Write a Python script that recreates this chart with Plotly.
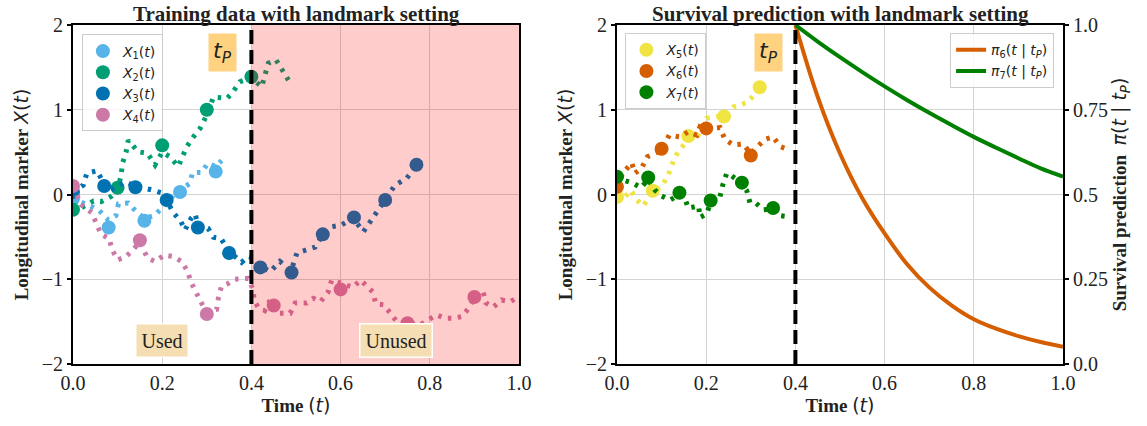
import plotly.graph_objects as go

# ---------------- Training trajectories (left panel) ----------------
# observed measurements (markers)
x1_obs_t = [0.0, 0.08, 0.16, 0.24, 0.32]
x1_obs_y = [-0.05, -0.39, -0.31, 0.03, 0.27]
x2_obs_t = [0.0, 0.1, 0.2, 0.3, 0.4]
x2_obs_y = [-0.18, 0.08, 0.58, 1.0, 1.39]
x3_obs_t = [0.0, 0.07, 0.14, 0.21, 0.28, 0.35, 0.42, 0.49, 0.56, 0.63, 0.70, 0.77]
x3_obs_y = [0.03, 0.10, 0.085, -0.065, -0.39, -0.69, -0.86, -0.92, -0.47, -0.27, -0.065, 0.35]
x4_obs_t = [0.0, 0.15, 0.3, 0.45, 0.6, 0.75, 0.9]
x4_obs_y = [0.10, -0.54, -1.41, -1.31, -1.12, -1.52, -1.21]

# underlying marker paths (dotted lines)
x1_path_t = [0.0, 0.016, 0.057, 0.079, 0.096, 0.102, 0.124, 0.143, 0.16, 0.182, 0.199,
             0.214, 0.229, 0.24, 0.262, 0.268, 0.289, 0.302, 0.32, 0.333]
x1_path_y = [-0.03, -0.085, -0.18, -0.30, -0.25, -0.11, -0.10, -0.21, -0.28, -0.25, -0.16,
             -0.085, 0.02, 0.05, 0.13, 0.26, 0.26, 0.37, 0.33, 0.40]
x2_path_t = [0.0, 0.027, 0.046, 0.063, 0.087, 0.100, 0.108, 0.111, 0.119, 0.124, 0.146,
             0.167, 0.184, 0.2, 0.217, 0.236, 0.255, 0.27, 0.285, 0.301, 0.315, 0.345,
             0.356, 0.374, 0.40, 0.423, 0.438, 0.455, 0.468, 0.483]
x2_path_y = [-0.21, -0.136, -0.077, -0.085, -0.018, 0.05, 0.23, 0.37, 0.50, 0.64, 0.505,
             0.486, 0.35, 0.50, 0.446, 0.33, 0.564, 0.68, 0.78, 0.95, 1.15, 1.135,
             1.19, 1.33, 1.38, 1.27, 1.55, 1.59, 1.47, 1.35]
x3_path_t = [0.0, 0.023, 0.031, 0.054, 0.07, 0.083, 0.118, 0.139, 0.178, 0.202, 0.208,
             0.225, 0.242, 0.251, 0.265, 0.274, 0.28, 0.303, 0.315, 0.332, 0.348, 0.378,
             0.393, 0.404, 0.419, 0.442, 0.464, 0.489, 0.502, 0.543, 0.558, 0.58, 0.602,
             0.628, 0.651, 0.666, 0.681, 0.696, 0.722, 0.748, 0.769, 0.78]
x3_path_y = [0.03, 0.11, 0.25, 0.28, 0.12, 0.05, 0.15, 0.10, 0.053, 0.014, -0.05,
             -0.215, -0.32, -0.42, -0.28, -0.23, -0.36, -0.40, -0.505, -0.52, -0.66, -0.80,
             -0.73, -0.75, -0.84, -0.91, -0.79, -0.90, -0.69, -0.62, -0.49, -0.38, -0.36,
             -0.28, -0.44, -0.32, -0.20, -0.08, 0.11, 0.19, 0.33, 0.41]
x4_path_t = [0.0, 0.018, 0.042, 0.053, 0.063, 0.081, 0.088, 0.10, 0.117, 0.132, 0.15,
             0.167, 0.184, 0.205, 0.223, 0.244, 0.257, 0.265, 0.277, 0.289, 0.30, 0.322,
             0.326, 0.333, 0.348, 0.363, 0.393, 0.404, 0.406, 0.415, 0.43, 0.442, 0.449,
             0.464, 0.487, 0.498, 0.524, 0.539, 0.555, 0.572, 0.58, 0.599, 0.627, 0.645,
             0.672, 0.679, 0.696, 0.711, 0.726, 0.75, 0.778, 0.815, 0.834, 0.853, 0.872,
             0.889, 0.90, 0.919, 0.926, 0.942, 0.961, 0.98, 0.995]
x4_path_y = [0.10, -0.12, -0.215, -0.34, -0.47, -0.52, -0.655, -0.77, -0.74, -0.667, -0.56,
             -0.75, -0.79, -0.714, -0.73, -0.79, -0.91, -1.04, -1.17, -1.29, -1.38, -1.355,
             -1.22, -1.08, -1.05, -1.0, -0.99, -1.13, -1.245, -1.33, -1.37, -1.245, -1.30,
             -1.40, -1.40, -1.28, -1.28, -1.225, -1.265, -1.15, -1.01, -1.05, -1.095, -1.01,
             -1.15, -1.29, -1.30, -1.395, -1.50, -1.52, -1.54, -1.42, -1.46, -1.46, -1.44,
             -1.33, -1.22, -1.135, -1.28, -1.33, -1.245, -1.265, -1.22]

# ---------------- New subjects (right panel) ----------------
x5_obs_t = [0.0, 0.08, 0.16, 0.24, 0.32]
x5_obs_y = [-0.03, 0.045, 0.69, 0.92, 1.265]
x6_obs_t = [0.0, 0.1, 0.2, 0.3]
x6_obs_y = [0.09, 0.54, 0.78, 0.46]
x7_obs_t = [0.0, 0.07, 0.14, 0.21, 0.28, 0.35]
x7_obs_y = [0.21, 0.20, 0.02, -0.07, 0.14, -0.16]

x5_path_t = [0.0, 0.014, 0.031, 0.044, 0.059, 0.08, 0.10, 0.115, 0.123, 0.134, 0.16,
             0.182, 0.201, 0.24, 0.261, 0.276, 0.294, 0.32]
x5_path_y = [-0.02, -0.05, 0.05, -0.06, -0.135, 0.03, 0.09, 0.23, 0.35, 0.475, 0.66,
             0.70, 0.90, 0.93, 1.035, 1.055, 1.095, 1.25]
x6_path_t = [0.0, 0.013, 0.033, 0.04, 0.055, 0.068, 0.10, 0.117, 0.141, 0.16, 0.179,
             0.186, 0.20, 0.231, 0.242, 0.261, 0.283, 0.30, 0.331, 0.35, 0.366, 0.389]
x6_path_y = [0.09, 0.25, 0.375, 0.25, 0.31, 0.445, 0.52, 0.70, 0.68, 0.74, 0.70,
             0.80, 0.77, 0.79, 0.65, 0.585, 0.595, 0.48, 0.65, 0.68, 0.565, 0.52]
x7_path_t = [0.0, 0.014, 0.037, 0.054, 0.07, 0.085, 0.10, 0.119, 0.14, 0.152, 0.16,
             0.183, 0.186, 0.201, 0.21, 0.231, 0.237, 0.246, 0.257, 0.28, 0.291, 0.298,
             0.312, 0.328, 0.349, 0.366, 0.381]
x7_path_y = [0.22, 0.17, 0.13, 0.08, 0.18, 0.053, -0.018, -0.065, 0.0, -0.045, -0.16,
             -0.135, -0.27, -0.23, -0.09, -0.026, 0.11, 0.25, 0.22, 0.13, 0.045, -0.097,
             -0.104, -0.18, -0.17, -0.25, -0.26]

# predicted survival from the landmark time onwards
surv_t = [0.40, 0.45, 0.50, 0.55, 0.60, 0.65, 0.70, 0.75, 0.80, 0.85, 0.90, 0.95, 1.00]
pi6 = [1.0, 0.788, 0.621, 0.489, 0.385, 0.295, 0.226, 0.173, 0.132, 0.104, 0.082, 0.065, 0.051]
pi7 = [1.0, 0.951, 0.905, 0.861, 0.819, 0.779, 0.741, 0.705, 0.670, 0.638, 0.607, 0.577, 0.553]

t_landmark = 0.4

C1, C2, C3, C4 = "#56B4E9", "#009E73", "#0072B2", "#CC79A7"
C5, C6, C7 = "#F0E442", "#D55E00", "#008000"

SERIF = "Liberation Serif"
SANS = "DejaVu Sans"
DOT = "3.5px,6.5px"


def math(s):
    return f"<span style='font-family:{SANS}'>{s}</span>"


def xlab(i):
    return f"<i>X</i><sub>{i}</sub>(<i>t</i>)"


fig = go.Figure()


def add_subject(pt, py, ot, oy, color, name, xa, ya, legend):
    fig.add_trace(go.Scatter(x=pt, y=py, mode="lines", showlegend=False,
                             line=dict(color=color, width=5, dash=DOT),
                             xaxis=xa, yaxis=ya, hoverinfo="skip"))
    fig.add_trace(go.Scatter(x=ot, y=oy, mode="markers", name=name, legend=legend,
                             marker=dict(color=color, size=14),
                             xaxis=xa, yaxis=ya))


add_subject(x1_path_t, x1_path_y, x1_obs_t, x1_obs_y, C1, xlab(1), "x", "y", "legend")
add_subject(x2_path_t, x2_path_y, x2_obs_t, x2_obs_y, C2, xlab(2), "x", "y", "legend")
add_subject(x3_path_t, x3_path_y, x3_obs_t, x3_obs_y, C3, xlab(3), "x", "y", "legend")
add_subject(x4_path_t, x4_path_y, x4_obs_t, x4_obs_y, C4, xlab(4), "x", "y", "legend")

add_subject(x5_path_t, x5_path_y, x5_obs_t, x5_obs_y, C5, xlab(5), "x2", "y2", "legend2")
add_subject(x6_path_t, x6_path_y, x6_obs_t, x6_obs_y, C6, xlab(6), "x2", "y2", "legend2")
add_subject(x7_path_t, x7_path_y, x7_obs_t, x7_obs_y, C7, xlab(7), "x2", "y2", "legend2")

pi_lab = "<i>π</i><sub>{}</sub>(<i>t</i> | <i>t</i><sub><i>P</i></sub>)"
fig.add_trace(go.Scatter(x=surv_t, y=pi6, mode="lines", name=pi_lab.format(6), legend="legend3",
                         line=dict(color=C6, width=4, shape="spline"), xaxis="x2", yaxis="y3"))
fig.add_trace(go.Scatter(x=surv_t, y=pi7, mode="lines", name=pi_lab.format(7), legend="legend3",
                         line=dict(color=C7, width=4, shape="spline"), xaxis="x2", yaxis="y3"))

# shaded region after the landmark time (drawn over the data)
fig.add_shape(type="rect", xref="x", yref="y", x0=t_landmark, x1=1.0, y0=-2, y1=2,
              fillcolor="rgba(255,0,0,0.2)", line=dict(width=0), layer="above")
for xr, yr in (("x", "y"), ("x2", "y2")):
    fig.add_shape(type="line", xref=xr, yref=yr, x0=t_landmark, x1=t_landmark, y0=-2, y1=2,
                  line=dict(color="black", width=4, dash="14px,6px"), layer="above")

tick_font = dict(family=SERIF, size=20, color="#222")
grid = "#d3d3d3"
common_x = dict(range=[0, 1], tickvals=[0, 0.2, 0.4, 0.6, 0.8, 1.0],
                ticktext=["0.0", "0.2", "0.4", "0.6", "0.8", "1.0"],
                showgrid=True, gridcolor=grid, gridwidth=1, zeroline=False,
                showline=True, linecolor="black", linewidth=2, mirror=True,
                ticks="", tickfont=tick_font,
                title=dict(text="<b>Time</b> " + math("(<i>t</i>)"),
                           font=dict(family=SERIF, size=19, color="#222"), standoff=4))
common_y = dict(range=[-2, 2], tickvals=[-2, -1, 0, 1, 2],
                showgrid=True, gridcolor=grid, gridwidth=1, zeroline=False,
                showline=True, linecolor="black", linewidth=2, mirror=True,
                ticks="outside", ticklen=4, tickwidth=1.5, tickcolor="black",
                tickfont=tick_font,
                title=dict(text="<b>Longitudinal marker</b> " + math("<i>X</i>(<i>t</i>)"),
                           font=dict(family=SERIF, size=19, color="#222"), standoff=8))

L = 446 / 990
fig.update_layout(
    width=1147, height=426,
    margin=dict(l=73, r=84, t=25, b=62),
    plot_bgcolor="white", paper_bgcolor="white",
    xaxis=dict(domain=[0, L], **common_x),
    yaxis=dict(domain=[0, 1], **common_y),
    xaxis2=dict(domain=[1 - L, 1], anchor="y2", **common_x),
    yaxis2=dict(domain=[0, 1], anchor="x2", **common_y),
    yaxis3=dict(overlaying="y2", side="right", anchor="x2", range=[0, 1],
                tickvals=[0, 0.25, 0.5, 0.75, 1.0], ticktext=["0.0", "0.25", "0.5", "0.75", "1.0"],
                showgrid=False, zeroline=False, showline=True, linecolor="black", linewidth=2,
                ticks="outside", ticklen=4, tickwidth=1.5, tickcolor="black", tickfont=tick_font,
                title=dict(text="<b>Survival prediction</b>  "
                                + math("<i>π</i>(<i>t</i> | <i>t</i><sub><i>P</i></sub>)"),
                           font=dict(family=SERIF, size=19, color="#222"), standoff=6)),
    showlegend=True,
    legend=dict(x=0.009, y=0.972, xanchor="left", yanchor="top",
                bgcolor="rgba(255,255,255,0.8)", bordercolor="#cccccc", borderwidth=1,
                font=dict(family=SANS, size=14, color="#222"), itemwidth=30),
    legend2=dict(x=0.558, y=0.976, xanchor="left", yanchor="top",
                 bgcolor="rgba(255,255,255,0.8)", bordercolor="#cccccc", borderwidth=1,
                 font=dict(family=SANS, size=14, color="#222"), itemwidth=30),
    legend3=dict(x=0.991, y=0.976, xanchor="right", yanchor="top",
                 bgcolor="rgba(255,255,255,0.8)", bordercolor="#cccccc", borderwidth=1,
                 font=dict(family=SANS, size=14, color="#222"), itemwidth=30),
)

title_font = dict(family=SERIF, size=21, color="#222")
fig.add_annotation(text="<b>Training data with landmark setting</b>", xref="paper", yref="paper",
                   x=L / 2, y=1.0, xanchor="center", yanchor="bottom", showarrow=False,
                   font=title_font, yshift=-3)
fig.add_annotation(text="<b>Survival prediction with landmark setting</b>", xref="paper", yref="paper",
                   x=1 - L / 2, y=1.0, xanchor="center", yanchor="bottom", showarrow=False,
                   font=title_font, yshift=-3)

tp_box = dict(showarrow=False, bgcolor="rgba(255,165,0,0.5)", borderpad=4,
              font=dict(family=SANS, size=22, color="#222"))
fig.add_annotation(text="<i>t</i><sub><i>P</i></sub>", xref="x", yref="y", x=0.336, y=1.68, **tp_box)
fig.add_annotation(text="<i>t</i><sub><i>P</i></sub>", xref="x2", yref="y2", x=0.34, y=1.68, **tp_box)

fig.add_annotation(text="Used", xref="x", yref="y", x=0.2, y=-1.72, showarrow=False,
                   bgcolor="#F5DEB3", bordercolor="white", borderwidth=1.5, borderpad=5,
                   font=dict(family=SERIF, size=20, color="#222"))
fig.add_annotation(text="Unused", xref="x", yref="y", x=0.725, y=-1.72, showarrow=False,
                   bgcolor="#F5DEB3", bordercolor="white", borderwidth=1.5, borderpad=5,
                   font=dict(family=SERIF, size=20, color="#222"))

fig.write_html("out.html")
